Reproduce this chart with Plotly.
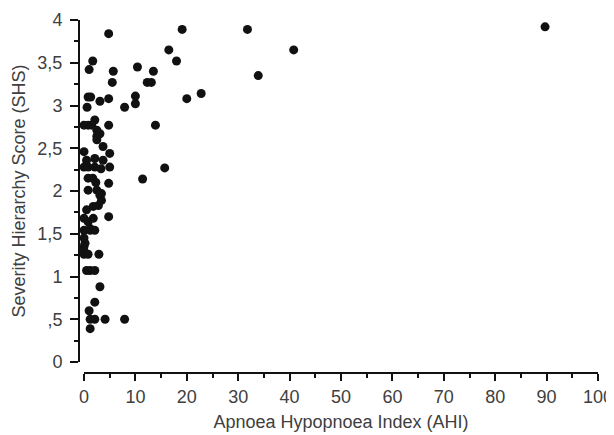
import plotly.graph_objects as go

# Apnoea Hypopnoea Index (AHI) and Severity Hierarchy Score (SHS)
ahi = [
    4.8, 19.1, 31.8, 89.7, 40.8, 33.9, 20.0, 22.8, 18.0, 16.5,
    1.7, 1.0, 5.7, 5.5, 10.4, 13.5, 12.3, 13.1,
    0.8, 1.3, 0.6, 3.1, 4.8, 7.9, 10.0, 10.0,
    0.0, 0.8, 2.1, 2.5, 3.1, 4.8, 13.9, 1.5, 2.5,
    2.5, 0.0, 3.7, 5.0, 0.5, 2.1, 3.7, 5.0, 0.0, 0.8, 2.1, 3.3, 15.7,
    0.8, 1.7, 4.8, 11.4, 2.3,
    0.8, 2.5, 3.4, 3.4, 2.8, 3.1, 0.5, 1.8, 4.8,
    0.0, 0.8, 1.8, 1.2, 0.0, 1.2, 2.1, 0.0, 0.2,
    0.0, 0.0, 0.0, 0.8, 2.9, 1.2, 2.1, 0.5, 3.1, 2.1, 1.0,
    1.2, 2.1, 4.1, 7.9, 1.2,
]
shs = [
    3.84, 3.89, 3.89, 3.92, 3.65, 3.35, 3.08, 3.14, 3.52, 3.65,
    3.52, 3.42, 3.40, 3.27, 3.45, 3.40, 3.27, 3.27,
    3.10, 3.10, 2.98, 3.05, 3.08, 2.98, 3.11, 3.02,
    2.77, 2.77, 2.83, 2.71, 2.67, 2.77, 2.77, 2.77, 2.64,
    2.60, 2.46, 2.52, 2.44, 2.36, 2.38, 2.36, 2.28, 2.28, 2.28, 2.28, 2.26, 2.27,
    2.15, 2.15, 2.09, 2.14, 2.10,
    2.01, 2.01, 1.97, 1.89, 1.83, 1.95, 1.78, 1.82, 1.70,
    1.68, 1.64, 1.68, 1.56, 1.54, 1.54, 1.54, 1.45, 1.39,
    1.35, 1.30, 1.26, 1.26, 1.26, 1.07, 1.07, 1.07, 0.88, 0.70, 0.60,
    0.50, 0.50, 0.50, 0.50, 0.39,
]

y_tickvals = [0, 0.5, 1, 1.5, 2, 2.5, 3, 3.5, 4]
y_ticktext = ["0", ",5", "1", "1,5", "2", "2,5", "3", "3,5", "4"]
x_tickvals = [0, 10, 20, 30, 40, 50, 60, 70, 80, 90, 100]

W, H = 614, 435
# the page body adds an 8px offset, so positions are shifted by -8px
ML, MR, MT, MB = 71, 24, 12, 70
PW, PH = W - ML - MR, H - MT - MB

fig = go.Figure(go.Scatter(
    x=ahi, y=shs, mode="markers",
    marker=dict(size=9, color="#111111", line=dict(width=0)),
    cliponaxis=False, showlegend=False,
))

tick_font = dict(family="Liberation Sans, Arial, sans-serif", size=18, color="#404040")
title_font = dict(family="Liberation Sans, Arial, sans-serif", size=18, color="#404040")
fig.update_layout(
    width=W, height=H,
    margin=dict(l=ML, r=MR, t=MT, b=MB, pad=0),
    paper_bgcolor="white", plot_bgcolor="white",
    font=tick_font,
    xaxis=dict(
        domain=[5 / PW, 1], range=[0, 100],
        anchor="free", position=0, automargin=False,
        tickvals=x_tickvals, ticks="outside", ticklen=7, tickwidth=1.5, tickcolor="#111",
        minor=dict(dtick=5, tick0=0, ticks="outside", ticklen=4, tickwidth=1.5, tickcolor="#111"),
        showline=True, linecolor="#111", linewidth=2,
        showgrid=False, zeroline=False, tickfont=tick_font,
        title=dict(text="Apnoea Hypopnoea Index (AHI)", standoff=9, font=title_font),
    ),
    yaxis=dict(
        domain=[11 / PH, 1], range=[0, 4],
        anchor="free", position=0, automargin=False,
        tickvals=y_tickvals, ticktext=y_ticktext,
        ticks="outside", ticklen=8, tickwidth=1.5, tickcolor="#111",
        ticklabelstandoff=4,
        minor=dict(dtick=0.25, tick0=0, ticks="outside", ticklen=4, tickwidth=1.5, tickcolor="#111"),
        showline=True, linecolor="#111", linewidth=2,
        showgrid=False, zeroline=False, tickfont=tick_font,
        title=dict(text="Severity Hierarchy Score (SHS)", standoff=6, font=title_font),
    ),
)
fig.write_html("out.html")
